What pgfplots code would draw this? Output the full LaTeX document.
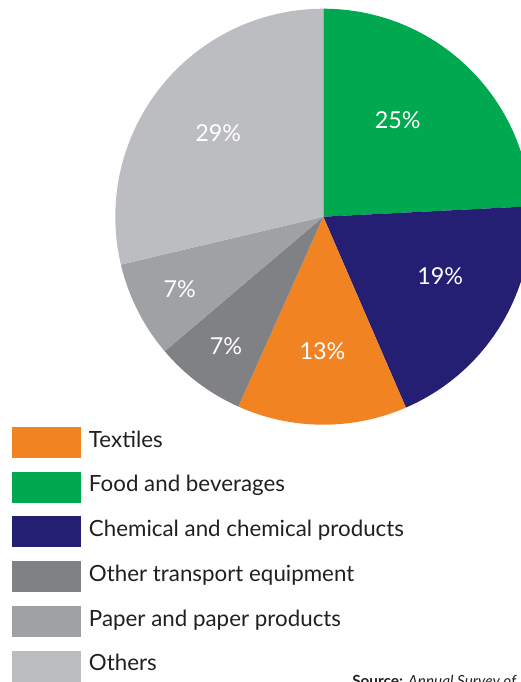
\documentclass[border=0pt]{standalone}
\usepackage{pgfplots}
\pgfplotsset{compat=1.18}
\usepackage{fontspec}
\setmainfont{Lato}
\definecolor{ctex}{RGB}{242,131,34}
\definecolor{cfood}{RGB}{0,169,79}
\definecolor{cchem}{RGB}{37,31,116}
\definecolor{ctrans}{RGB}{128,129,132}
\definecolor{cpaper}{RGB}{160,161,164}
\definecolor{cother}{RGB}{188,189,192}
\definecolor{ctext}{RGB}{35,31,32}
\newcommand\legendfont{\fontsize{16.75}{20}\selectfont}
\newcommand\pctfont{\fontsize{17.5}{20}\selectfont}
\begin{document}
\begin{tikzpicture}
\begin{axis}[
  name=ax,
  scale only axis, width=390.75pt, height=511.5pt,
  xmin=0, xmax=521, ymin=0, ymax=682, y dir=reverse,
  hide axis, clip=false,
  legend cell align=left,
  legend image code/.code={\fill[#1, draw=none] (0pt,-13.5pt) rectangle (51.75pt,9.75pt);},
  legend style={at={(axis cs:12,427)}, anchor=north west, draw=none, fill=none,
    inner sep=0pt, outer sep=0pt, row sep=10.3pt, font=\legendfont, text=ctext,
    nodes={inner sep=0pt},
    /tikz/every odd column/.append style={column sep=6pt}},
]
% slices: value (share in %), colour, printed label, label radius (px), label angle shift
\pgfplotsextra{
  \gdef\curang{90}
  \foreach \v/\c/\l/\lr/\la in {24.2/cfood/25/122/6, 19.3/cchem/19/131/5,
      13.2/ctex/13/134/0, 7.1/ctrans/7/162/0, 7.5/cpaper/7/161/0, 28.7/cother/29/134/0}{
    \pgfmathsetmacro\s{\curang}
    \pgfmathsetmacro\e{\curang-3.6*\v}
    \pgfmathsetmacro\m{(\s+\e)/2+\la}
    \pgfmathsetmacro\rr{\lr*0.75}
    \fill[\c] (axis cs:323.3,216.7) -- ++(\s:156pt) arc[start angle=\s, end angle=\e, radius=156pt] -- cycle;
    \path (axis cs:323.3,216.7) ++(\m:\rr pt) node[text=white, font=\pctfont, inner sep=0pt] {\l\%};
    \xdef\curang{\e}
  }
  \node[anchor=base west, inner sep=0pt, text=ctext, font=\fontsize{11.5}{13}\selectfont]
    at (axis cs:352,686) {\textbf{Source:} \textit{Annual Survey of Industries}};
}
\addlegendimage{fill=ctex}\addlegendentry{Textiles}
\addlegendimage{fill=cfood}\addlegendentry{Food and beverages}
\addlegendimage{fill=cchem}\addlegendentry{Chemical and chemical products}
\addlegendimage{fill=ctrans}\addlegendentry{Other transport equipment}
\addlegendimage{fill=cpaper}\addlegendentry{Paper and paper products}
\addlegendimage{fill=cother}\addlegendentry{Others}
\end{axis}
\pgfresetboundingbox
\path (ax.south west) rectangle (ax.north east);
\end{tikzpicture}
\end{document}
